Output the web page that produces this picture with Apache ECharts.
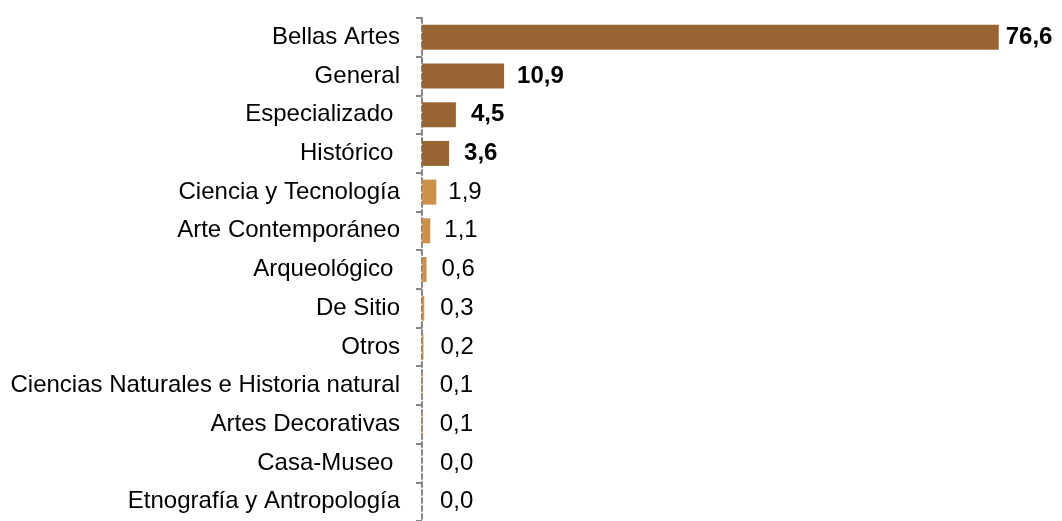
<!DOCTYPE html>
<html>
<head>
<meta charset="utf-8">
<script src="https://cdn.jsdelivr.net/npm/echarts@6/dist/echarts.min.js"></script>
<style>html,body{margin:0;padding:0;background:#fff}#c{width:1062px;height:521px}</style>
</head>
<body>
<div id="c"></div>
<script>
const categories = ['Bellas Artes','General','Especializado ','Histórico ','Ciencia y Tecnología','Arte Contemporáneo','Arqueológico ','De Sitio','Otros','Ciencias Naturales e Historia natural','Artes Decorativas','Casa-Museo ','Etnografía y Antropología'];
const values = [76.6,10.9,4.5,3.6,1.9,1.1,0.6,0.3,0.2,0.1,0.1,0.0,0.0];
const highlighted = [true,true,true,true,false,false,false,false,false,false,false,false,false];

const darkColor = '#996633';
const lightColor = '#CC9147';
const labelGap = [7,13,15,15,12,14,15,16,17,17,17,18,18];

const chart = echarts.init(document.getElementById('c'), null, {renderer:'canvas'});
chart.setOption({
  animation:false,
  backgroundColor:'#fff',
  grid:{left:422,right:0,top:18,bottom:-3,containLabel:false},
  xAxis:{type:'value',min:0,max:85,show:false},
  yAxis:{
    type:'category',inverse:true,data:categories,
    axisLine:{show:true,lineStyle:{color:'#868686',width:2,type:[5,3]}},
    axisTick:{show:true,length:6,lineStyle:{color:'#868686',width:2,type:'solid'}},
    axisLabel:{color:'#000',fontSize:24,fontFamily:'Liberation Sans, Arial, sans-serif',margin:22,padding:[3,0,0,0]}
  },
  series:[{
    type:'bar',barWidth:25,
    data:values.map((v,i)=>({
      value:v,
      itemStyle:{color:highlighted[i]?darkColor:lightColor},
      label:{show:true,position:'right',distance:labelGap[i],padding:[3,0,0,0],
        fontWeight:highlighted[i]?'bold':'normal',
        fontSize:24,color:'#000',fontFamily:'Liberation Sans, Arial, sans-serif',
        formatter:p=>p.value.toFixed(1).replace('.',',')}
    }))
  }]
});
</script>
</body>
</html>
